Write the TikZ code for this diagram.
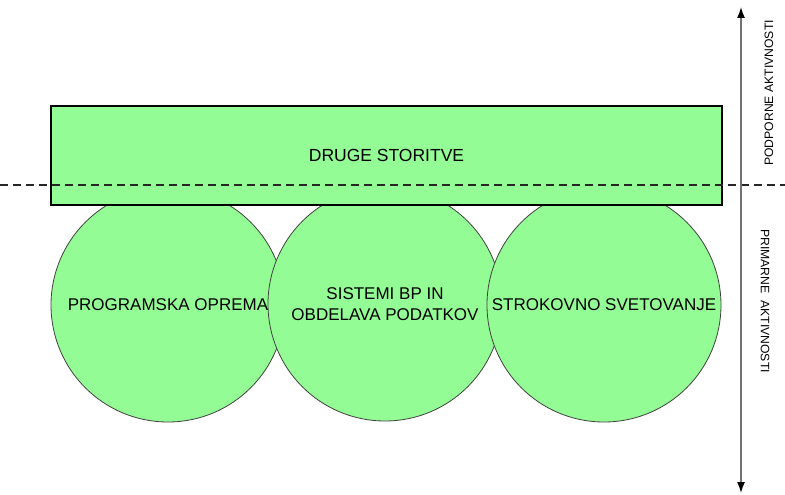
\documentclass[tikz,border=0pt]{standalone}
\usepackage{fontspec}
\setmainfont{Liberation Sans}
\usepackage{tikz}
\usetikzlibrary{arrows.meta,positioning,calc}
\definecolor{svetlozelena}{RGB}{148,252,148}
\tikzstyle{krog}=[draw=black!75,fill=svetlozelena,circle,minimum size=234pt,inner sep=0pt,line width=0.8pt,align=center,font=\fontsize{17}{20.5}\selectfont]
\tikzstyle{pas}=[draw=black,fill=svetlozelena,rectangle,minimum width=671pt,minimum height=99pt,inner sep=0pt,line width=1.1pt,font=\fontsize{17.5}{20}\selectfont]
\tikzstyle{oznaka}=[font=\fontsize{12.2}{14}\selectfont,inner sep=0pt]

\begin{document}
\begin{tikzpicture}[x=1pt,y=-1pt]
    \useasboundingbox (0,0) rectangle (785,495);
    % primarne aktivnosti
    \node [krog] (programi) at (168,305) {PROGRAMSKA OPREMA};
    \node [krog] (sistemi) at (385,304) {SISTEMI BP IN\\OBDELAVA PODATKOV};
    \node [krog] (svetovanje) at (604,305) {STROKOVNO SVETOVANJE};
    % podporne aktivnosti
    \node [pas] (storitve) at (386.5,155.5) {DRUGE STORITVE};
    \coordinate (mejaL) at (0,185);
    \coordinate (mejaD) at (785,185);
    \draw [line width=1.8pt,black!85,dash pattern=on 8pt off 5pt] (mejaL) -- (mejaD);
    \coordinate (vrh) at (741,7);
    \coordinate (dno) at (741,493);
    \draw [line width=1.4pt,black!55,{Latex[color=black,length=11pt,width=8pt]}-{Latex[color=black,length=11pt,width=8pt]}] (vrh) -- (dno);
    \node [oznaka,rotate=90] (podporne) at (769,93) {PODPORNE AKTIVNOSTI};
    \node [oznaka,rotate=-90] (primarne) at (765,301) {PRIMARNE\ \ AKTIVNOSTI};
\end{tikzpicture}
\end{document}
